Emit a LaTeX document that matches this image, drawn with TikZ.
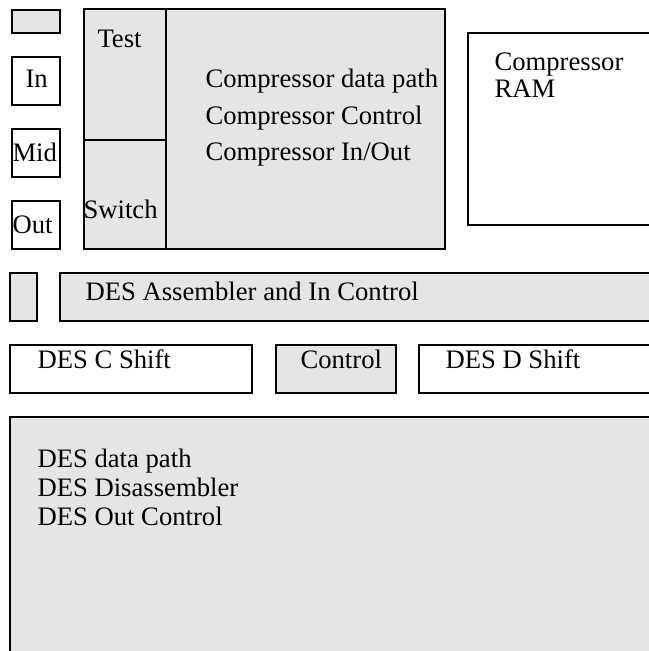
\documentclass[tikz,border=0pt]{standalone}
\usepackage{fontspec}
\setmainfont{Liberation Serif}
\definecolor{blockgray}{RGB}{229,229,229}

\begin{document}
\begin{tikzpicture}[x=0.75pt, y=-0.75pt, line width=0.8pt,
    graybox/.style={draw, fill=blockgray},
    whitebox/.style={draw, fill=white},
    lbl/.style={anchor=base west, inner sep=0pt, font=\fontsize{20pt}{24pt}\selectfont}]
        \useasboundingbox (0, 0) rectangle (649, 651);
        \clip (0, 0) rectangle (649, 651);

        % Draw the column of small blocks on the left
        \draw[graybox] (12, 10) rectangle (60, 33);
        \draw[whitebox] (12, 57) rectangle (60, 105);
        \node[lbl] (in) at (25, 87) {In};
        \draw[whitebox] (12, 129) rectangle (60, 177);
        \node[lbl] (mid) at (12, 161) {Mid};
        \draw[whitebox] (12, 201) rectangle (60, 249);
        \node[lbl] (out) at (12, 233) {Out};

        % Draw the compressor block with test and switch
        \draw[graybox] (84, 9) rectangle (445, 249);
        \draw (166, 9) -- (166, 249);
        \draw (84, 140) -- (166, 140);
        \node[lbl] (test) at (97, 47) {Test};
        \node[lbl] (switch) at (83, 218) {Switch};
        \node[lbl] (cdata) at (205, 87) {Compressor data path};
        \node[lbl] (cctrl) at (205, 124) {Compressor Control};
        \node[lbl] (cinout) at (205, 160) {Compressor In/Out};

        % Draw the compressor RAM
        \draw[whitebox] (468, 33) rectangle (670, 225);
        \node[lbl] (ram1) at (494, 70) {Compressor};
        \node[lbl] (ram2) at (494, 97) {RAM};

        % Draw the DES assembler row
        \draw[graybox] (10, 273) rectangle (37, 321);
        \draw[graybox] (60, 273) rectangle (670, 321);
        \node[lbl] (asm) at (85, 300) {DES Assembler and In Control};

        % Draw the shift registers and control
        \draw[whitebox] (10, 345) rectangle (252, 393);
        \node[lbl] (cshift) at (37, 368) {DES C Shift};
        \draw[graybox] (276, 345) rectangle (396, 393);
        \node[lbl] (ctrl) at (300, 368) {Control};
        \draw[whitebox] (419, 345) rectangle (670, 393);
        \node[lbl] (dshift) at (445, 368) {DES D Shift};

        % Draw the DES data path block
        \draw[graybox] (10, 417) rectangle (670, 670);
        \node[lbl] (ddata) at (37, 467) {DES data path};
        \node[lbl] (ddis) at (37, 496) {DES Disassembler};
        \node[lbl] (dout) at (37, 525) {DES Out Control};
    \end{tikzpicture}
\end{document}
